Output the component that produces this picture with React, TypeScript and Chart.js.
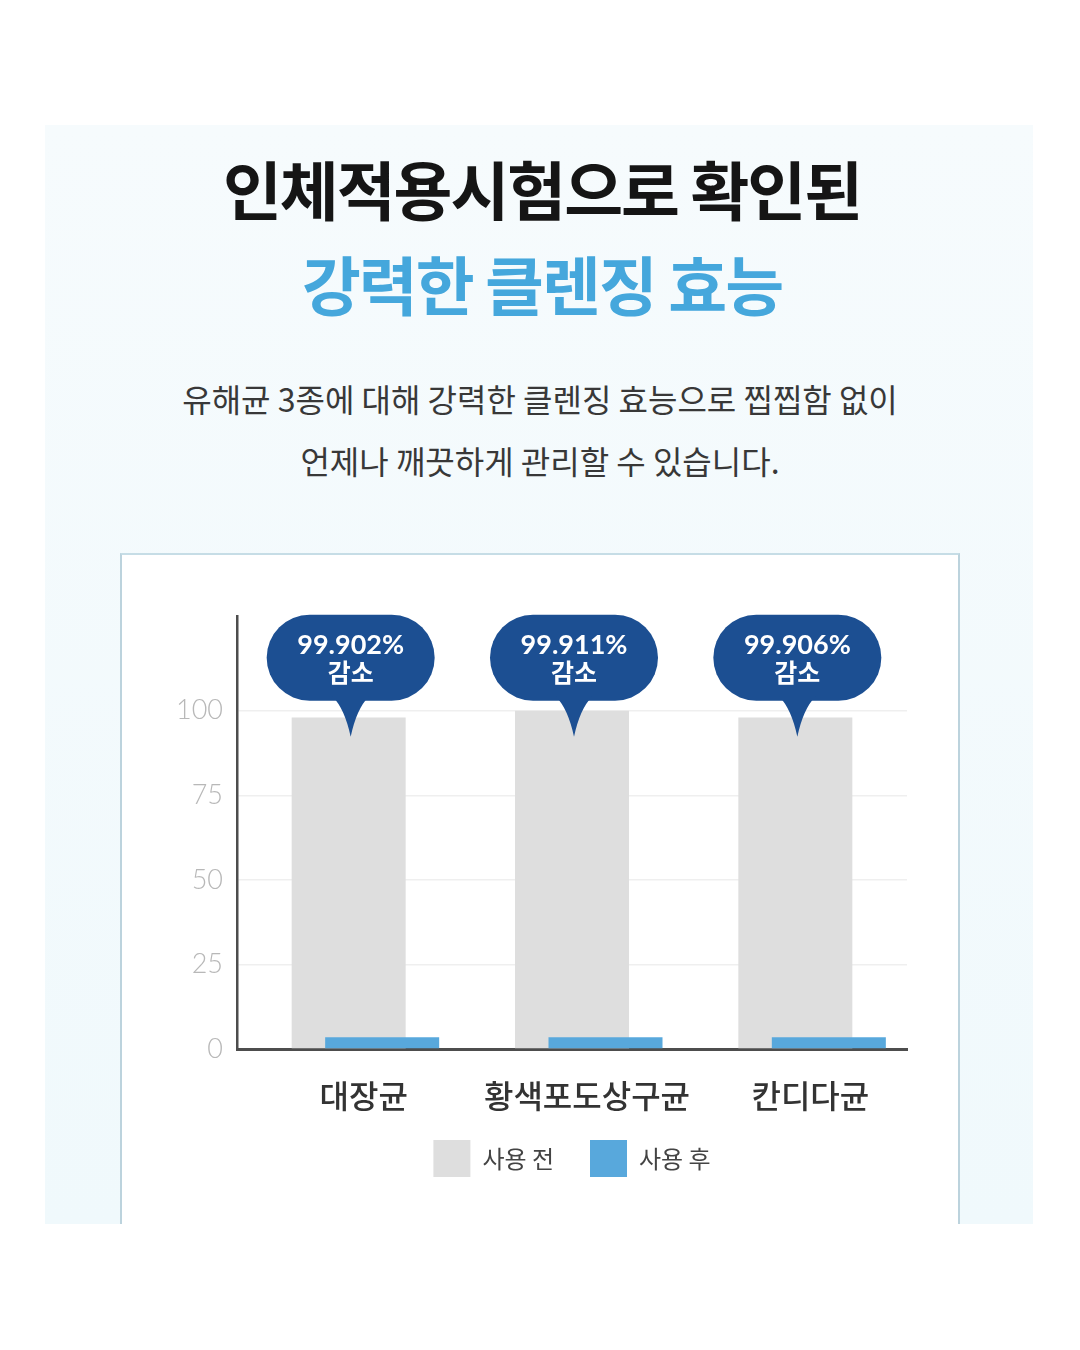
import React, { useEffect, useRef } from 'react';
import { Chart, registerables } from 'chart.js';

Chart.register(...registerables);

// ---- data ----
const categories = ['대장균', '황색포도상구균', '칸디다균'];
const seriesNames = ['사용 전', '사용 후'];
const beforeUse = [98, 100, 98];
const afterUse = [3.5, 3.5, 3.5];
const reductionRates = ['99.902%', '99.911%', '99.906%'];
const reductionWord = '감소';
const yTickValues = [0, 25, 50, 75, 100];

const titleLine1 = '인체적용시험으로 확인된';
const titleLine2 = '강력한 클렌징 효능';
const bodyLine1 = '유해균 3종에 대해 강력한 클렌징 효능으로 찝찝함 없이';
const bodyLine2 = '언제나 깨끗하게 관리할 수 있습니다.';

const KR = "'Noto Sans CJK KR', 'Noto Sans', sans-serif";

// overlap shift of the "after" bars, as a fraction of one category width
const AFTER_SHIFT = 0.15;

const layoutTweaks = {
  id: 'layoutTweaks',
  afterLayout(chart: any) {
    const lg = chart.legend;
    if (lg) {
      lg.left = chart.chartArea.left;
      lg.right = chart.chartArea.right;
      lg.top -= 20;
      lg.bottom -= 20;
    }
    const x2 = chart.scales.x2;
    if (x2) {
      const d = ((chart.chartArea.right - chart.chartArea.left) / categories.length) * AFTER_SHIFT;
      x2.left += d;
      x2.right += d;
      x2.configure();
    }
  },
};

const bubbles = {
  id: 'bubbles',
  afterDatasetsDraw(chart: any) {
    const { ctx } = chart;
    const meta = chart.getDatasetMeta(0);
    const ref = chart.scales.y.getPixelForValue(100);
    meta.data.forEach((bar: any, i: number) => {
      const cx = bar.x + 2;
      const w = 168;
      const h = 86;
      const bottom = ref - 10;
      const top = bottom - h;
      const tip = ref + 26;
      ctx.save();
      ctx.fillStyle = '#1c4f92';
      ctx.beginPath();
      ctx.roundRect(cx - w / 2, top, w, h, h / 2);
      ctx.fill();
      ctx.beginPath();
      ctx.moveTo(cx - 18, bottom - 4);
      ctx.quadraticCurveTo(cx - 6, bottom + 8, cx, tip);
      ctx.quadraticCurveTo(cx + 6, bottom + 8, cx + 18, bottom - 4);
      ctx.closePath();
      ctx.fill();
      ctx.fillStyle = '#ffffff';
      ctx.textAlign = 'center';
      ctx.textBaseline = 'middle';
      ctx.font = 'bold 27px Lato';
      ctx.fillText(reductionRates[i], cx, top + 31);
      ctx.font = `bold 25px ${KR}`;
      ctx.fillText(reductionWord, cx, top + 58);
      ctx.restore();
    });
  },
};

function BarChart() {
  const ref = useRef<HTMLCanvasElement | null>(null);
  useEffect(() => {
    if (!ref.current) return;
    const chart = new Chart(ref.current, {
      type: 'bar',
      data: {
        labels: categories,
        datasets: [
          {
            label: seriesNames[0],
            data: beforeUse,
            xAxisID: 'x',
            backgroundColor: '#dedede',
            grouped: false,
            categoryPercentage: 1,
            barPercentage: 0.5105,
            order: 1,
          } as any,
          {
            label: seriesNames[1],
            data: afterUse,
            xAxisID: 'x2',
            backgroundColor: '#58a8dc',
            grouped: false,
            categoryPercentage: 1,
            barPercentage: 0.5105,
            order: 0,
          } as any,
        ],
      },
      options: {
        responsive: false,
        animation: false,
        layout: { padding: { left: 0, right: 53, top: 63, bottom: 17 } },
        scales: {
          x: {
            type: 'category',
            offset: true,
            grid: { display: false, drawTicks: false },
            border: { display: true, color: '#4d4d4d', width: 3 },
            ticks: {
              font: { family: KR, size: 32, weight: '500' as any },
              color: '#333333',
              padding: 28,
              labelOffset: 15,
              maxRotation: 0,
              autoSkip: false,
            },
            afterFit: (s: any) => {
              s.height = 75;
            },
          },
          x2: {
            type: 'category',
            offset: true,
            display: false,
            grid: { display: false },
          },
          y: {
            min: 0,
            max: 128,
            grid: { color: '#efefef', lineWidth: 1.5, drawTicks: false },
            border: { display: true, color: '#4d4d4d', width: 2.5 },
            ticks: {
              font: { family: 'Lato', size: 27, weight: '300' as any },
              color: '#b8b8b8',
              padding: 14,
            },
            afterBuildTicks: (s: any) => {
              s.ticks = yTickValues.map((v) => ({ value: v }));
            },
            afterFit: (s: any) => {
              s.width = 117;
            },
          },
        },
        plugins: {
          legend: {
            position: 'bottom',
            labels: {
              boxWidth: 37,
              boxHeight: 37,
              padding: 36,
              font: { family: KR, size: 24 },
              color: '#444444',
              sort: (a: any, b: any) => a.datasetIndex - b.datasetIndex,
            },
          },
          tooltip: { enabled: false },
        },
      },
      plugins: [layoutTweaks, bubbles],
    });
    return () => chart.destroy();
  }, []);
  return (
    <canvas
      ref={ref}
      width={840}
      height={671}
      style={{ position: 'absolute', left: 120, top: 553, width: 840, height: 671 }}
    />
  );
}

export default function App() {
  const center: React.CSSProperties = {
    position: 'absolute',
    left: 0,
    width: 1080,
    textAlign: 'center',
    fontFamily: KR,
    whiteSpace: 'nowrap',
  };
  return (
    <div
      style={{
        position: 'fixed',
        left: 0,
        top: 0,
        width: 1080,
        height: 1350,
        background: '#ffffff',
        overflow: 'hidden',
      }}
    >
      <div
        style={{
          position: 'absolute',
          left: 45,
          top: 125,
          width: 988,
          height: 1099,
          background: 'linear-gradient(#f6fbfd, #f0f9fc)',
        }}
      />
      <div
        style={{
          ...center,
          top: 155,
          fontSize: 64,
          lineHeight: '64px',
          fontWeight: 700,
          color: '#151515',
          letterSpacing: -2,
          paddingLeft: 2,
        }}
      >
        {titleLine1}
      </div>
      <div
        style={{
          ...center,
          top: 250,
          fontSize: 64,
          lineHeight: '64px',
          fontWeight: 700,
          color: '#45a7dc',
          letterSpacing: -2,
          paddingLeft: 2,
        }}
      >
        {titleLine2}
      </div>
      <div
        style={{
          ...center,
          top: 382,
          fontSize: 32,
          lineHeight: '32px',
          fontWeight: 400,
          color: '#383838',
        }}
      >
        {bodyLine1}
      </div>
      <div
        style={{
          ...center,
          top: 444,
          fontSize: 32,
          lineHeight: '32px',
          fontWeight: 400,
          color: '#383838',
        }}
      >
        {bodyLine2}
      </div>
      <div
        style={{
          position: 'absolute',
          left: 120,
          top: 553,
          width: 840,
          height: 671,
          boxSizing: 'border-box',
          background: '#ffffff',
          borderTop: '2px solid #c6dde6',
          borderLeft: '2px solid #bcd3dd',
          borderRight: '2px solid #bcd3dd',
        }}
      />
      <BarChart />
    </div>
  );
}
